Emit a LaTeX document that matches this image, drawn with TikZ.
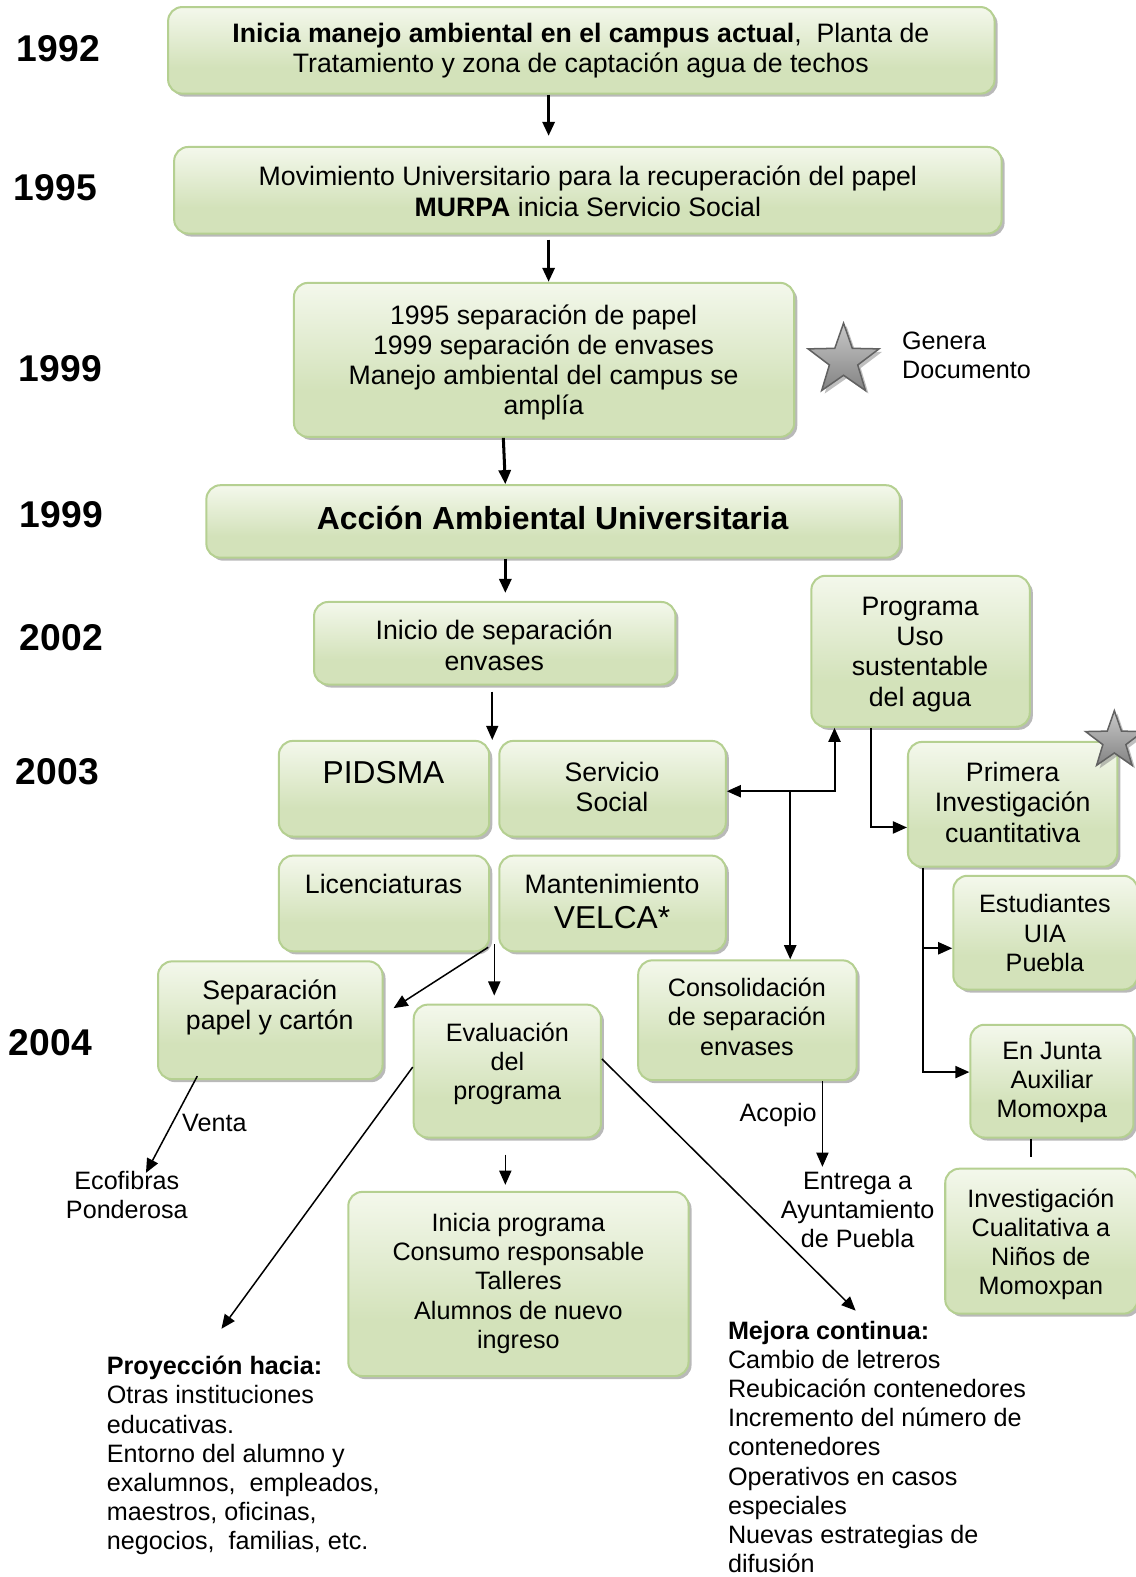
\documentclass[tikz,border=0pt]{standalone}
\usepackage{fontspec}
\setmainfont{Liberation Sans}
\usetikzlibrary{shapes.geometric,arrows.meta,shadows}
\definecolor{boxbot}{RGB}{211,226,186}
\definecolor{boxtop}{RGB}{253,254,250}
\definecolor{boxline}{RGB}{181,208,145}
\pgfdeclareverticalshading{boxshade}{100bp}{color(0bp)=(boxbot); color(40bp)=(boxbot); color(85bp)=(boxtop); color(100bp)=(boxtop)}
\pgfdeclareverticalshading{starshade}{100bp}{color(0bp)=(black!62); color(100bp)=(black!8)}
\tikzset{
  box/.style={draw=boxline, line width=2pt, rounded corners=14pt, shading=boxshade,
    drop shadow={shadow xshift=3pt, shadow yshift=-3pt, fill=black!50, opacity=0.55}, inner sep=0pt},
  ta/.style={font=\fontsize{26.5}{30}\selectfont, align=center, inner sep=0pt},
  tb/.style={font=\fontsize{25}{29}\selectfont, align=center, inner sep=0pt},
  tl/.style={font=\fontsize{25}{29}\selectfont, align=left, inner sep=0pt},
  yr/.style={font=\fontsize{37}{40}\selectfont\bfseries, inner sep=0pt},
  arr/.style={-{Triangle[length=14pt,width=12pt]}, line width=1.5pt},
  arrM/.style={arr, line width=2pt},
  arrT/.style={arr, line width=3pt},
  gstar/.style={star, star points=5, star point ratio=2.5, inner sep=0pt, draw=black!62,
    line width=1.5pt, shading=starshade,
    drop shadow={shadow xshift=3pt, shadow yshift=-3pt, fill=black!50, opacity=0.5}},
}
\begin{document}
\begin{tikzpicture}[x=1pt,y=-1pt]
\useasboundingbox (0,0) rectangle (1128.5,1566.6);

% years
\node[yr] (y1) at (58,48) {1992};
\node[yr] (y2) at (55,186) {1995};
\node[yr] (y3) at (60,366) {1999};
\node[yr] (y4) at (61,511) {1999};
\node[yr] (y5) at (61,633) {2002};
\node[yr] (y6) at (57,767) {2003};
\node[yr] (y7) at (50,1036) {2004};

% boxes
\node[box, minimum width=821pt, minimum height=86pt] (b1) at (577.5,50) {};
\node[box, minimum width=822pt, minimum height=86pt] (b2) at (584,189) {};
\node[box, minimum width=497pt, minimum height=153pt] (b3) at (540.5,357.5) {};
\node[box, minimum width=689pt, minimum height=72pt] (b4) at (549.5,518) {};
\node[box, minimum width=359pt, minimum height=82pt] (b5) at (491.5,639) {};
\node[box, minimum width=217pt, minimum height=150pt] (b6) at (914.5,647) {};
\node[box, minimum width=209pt, minimum height=95pt] (b7) at (381.5,783.5) {};
\node[box, minimum width=225pt, minimum height=95pt] (b8) at (608.5,783.5) {};
\node[box, minimum width=208pt, minimum height=124pt] (b9) at (1006,799) {};
\node[box, minimum width=209pt, minimum height=95pt] (b10) at (381.5,897.5) {};
\node[box, minimum width=225pt, minimum height=95pt] (b11) at (608.5,897.5) {};
\node[box, minimum width=183pt, minimum height=113pt] (b12) at (1038.5,926.5) {};
\node[box, minimum width=223pt, minimum height=117pt] (b13) at (268.5,1013.5) {};
\node[box, minimum width=186pt, minimum height=132pt] (b14) at (504,1064) {};
\node[box, minimum width=217pt, minimum height=119pt] (b15) at (742.5,1013.5) {};
\node[box, minimum width=162pt, minimum height=112pt] (b16) at (1045,1074) {};
\node[box, minimum width=191pt, minimum height=144pt] (b17) at (1034.5,1233) {};
\node[box, minimum width=338pt, minimum height=183pt] (b18) at (515,1275.5) {};

% stars
\node[gstar, minimum size=74pt] (s1) at (838,358) {};
\node[gstar, minimum size=60pt] (s2) at (1107,736) {};

% box texts
\node[ta] (t1) at (577,50) {\textbf{Inicia manejo ambiental en el campus actual},\ \ Planta de\\Tratamiento y zona de captación agua de techos};
\node[ta] (t2) at (584,190) {Movimiento Universitario para la recuperación del papel\\\textbf{MURPA} inicia Servicio Social};
\node[ta] (t3) at (540,360) {1995 separación de papel\\1999 separación de envases\\Manejo ambiental del campus se\\amplía};
\node[font=\fontsize{31.7}{34}\selectfont\bfseries, inner sep=0pt] (t4) at (549,515) {Acción Ambiental Universitaria};
\node[ta] (t5) at (491,641) {Inicio de separación\\envases};
\node[ta] (t6) at (914,650) {Programa\\Uso\\sustentable\\del agua};
\node[font=\fontsize{31.5}{34}\selectfont, inner sep=0pt] (t7) at (381,767) {PIDSMA};
\node[ta] (t8) at (608,782) {Servicio\\Social};
\node[ta] (t9) at (1006,797) {Primera\\Investigación\\cuantitativa};
\node[ta] (t10) at (381,878) {Licenciaturas};
\node[ta] (t11) at (608,895.5) {Mantenimiento\\[5pt]{\fontsize{31.5}{34}\selectfont VELCA*}};
\node[tb] (t12) at (1038,927) {Estudiantes\\UIA\\Puebla};
\node[ta] (t13) at (268,1001) {Separación\\papel y cartón};
\node[tb] (t14) at (504,1057) {Evaluación\\del\\programa};
\node[tb] (t15) at (742,1010) {Consolidación\\de separación\\envases};
\node[tb] (t16) at (1045,1075) {En Junta\\Auxiliar\\Momoxpa};
\node[tb] (t17) at (1034,1236) {Investigación\\Cualitativa a\\Niños de\\Momoxpan};
\node[tb] (t18) at (515,1275) {Inicia programa\\Consumo responsable\\Talleres\\Alumnos de nuevo\\ingreso};

% free texts
\node[tl, anchor=west] (gen) at (896,353) {Genera\\Documento};
\node[tb] (venta) at (213,1116) {Venta};
\node[tb] (eco) at (126,1187) {Ecofibras\\Ponderosa};
\node[tb] (acopio) at (773,1108) {Acopio};
\node[tb] (entrega) at (852,1202) {Entrega a\\Ayuntamiento\\de Puebla};
\node[tl, anchor=north west] (proy) at (106,1347) {\textbf{Proyección hacia:}\\Otras instituciones\\educativas.\\Entorno del alumno y\\exalumnos,\ \ empleados,\\maestros, oficinas,\\negocios,\ \ familias, etc.};
\node[tl, anchor=north west] (mej) at (723,1312) {\textbf{Mejora continua:}\\Cambio de letreros\\Reubicación contenedores\\Incremento del número de\\contenedores\\Operativos en casos\\especiales\\Nuevas estrategias de\\difusión};

% connectors
\draw[arrT] (b1.south -| 545,0) -- ([yshift=10pt]b2.north -| 545,0);
\draw[arrT] ([yshift=-5pt]b2.south -| 545,0) -- (b3.north -| 545,0);
\draw[arrT] (b3.south -| 500,0) -- (b4.north -| 502,0);
\draw[arrT] (b4.south -| 502,0) -- ([yshift=8pt]b5.north -| 502,0);
\draw[arr] ([yshift=-6pt]b5.south -| 489,0) -- (b7.north -| 489,0);

\coordinate (J) at (785,786);
\draw[arrM] (J) -- (b8.east |- J);
\draw[arrM] (J) -| (b6.south -| 829,0);
\draw[arrM] (J) -- (b15.north -| J);

\draw[arrM] (b6.south -| 865,0) |- (b9.west |- 0,822);
\coordinate (K) at (917,942);
\draw[arrM] (b9.south -| 917,0) |- (b16.west |- 0,1065);
\draw[arrM] (K) -- (b12.west |- K);

\draw[arr] ([xshift=-2pt,yshift=5pt]b10.south east) -- ([xshift=10pt,yshift=12pt]b13.east);
\draw[arr] ([yshift=8pt]b10.south -| 491,0) -- ([yshift=8pt]b14.north -| 491,0);
\draw[arr] ([yshift=4pt]b13.south -| 196,0) -- ([xshift=19pt,yshift=-2pt]eco.north);
\draw[arr] ([yshift=4pt]b14.west) -- ([xshift=114pt,yshift=27pt]proy.north west);
\draw[arr] ([yshift=12pt]b14.east) -- ([xshift=127pt,yshift=10pt]mej.north west);
\draw[arr] ([yshift=-16pt]b14.south -| 502,0) -- ([yshift=6pt]b18.north -| 502,0);
\draw[arr] (b15.south -| 817,0) -- ([yshift=5pt]entrega.north -| 817,0);
\draw[line width=1.5pt] (b16.south -| 1024,0) -- ([yshift=11pt]b17.north -| 1024,0);
\end{tikzpicture}
\end{document}
